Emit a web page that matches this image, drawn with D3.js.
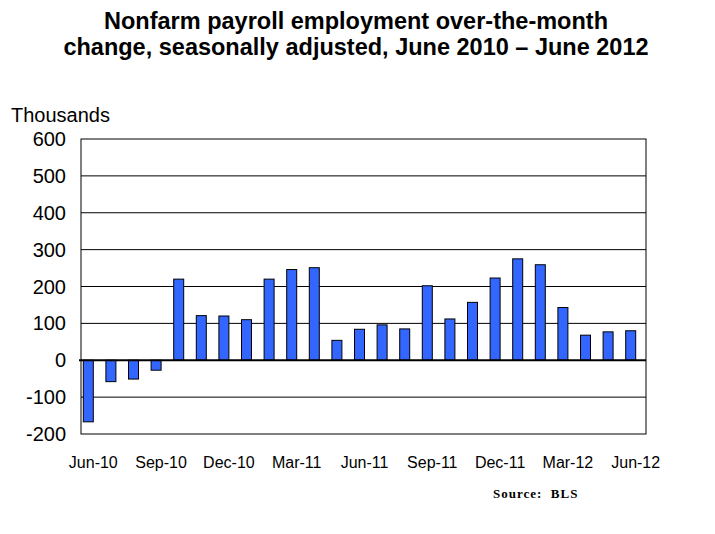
<!DOCTYPE html>
<html>
<head>
<meta charset="utf-8">
<script src="https://cdn.jsdelivr.net/npm/d3@7"></script>
<style>
  body { margin: 0; background: #fff; }
  svg { display: block; }
</style>
</head>
<body>
<script>
// months shown on the x axis, Jun 2010 - Jun 2012
var months = ["Jun-10", "Jul-10", "Aug-10", "Sep-10", "Oct-10", "Nov-10", "Dec-10",
              "Jan-11", "Feb-11", "Mar-11", "Apr-11", "May-11", "Jun-11", "Jul-11",
              "Aug-11", "Sep-11", "Oct-11", "Nov-11", "Dec-11", "Jan-12", "Feb-12",
              "Mar-12", "Apr-12", "May-12", "Jun-12"];

// over-the-month change, thousands
var changes = [-167, -58, -51, -27, 220, 121, 120, 110, 220, 246, 251, 54, 84, 96,
               85, 202, 112, 157, 223, 275, 259, 143, 68, 77, 80];

// only every third month gets a label
var labelled = ["Jun-10", "Sep-10", "Dec-10", "Mar-11", "Jun-11", "Sep-11",
                "Dec-11", "Mar-12", "Jun-12"];

var yTicks = [-200, -100, 0, 100, 200, 300, 400, 500, 600];

var titleLines = ["Nonfarm payroll employment over-the-month",
                  "change, seasonally adjusted, June 2010 \u2013 June 2012"];

// chart properties
var w = 715;
var h = 534;
var left = 81;
var right = 646;
var top_ = 139;
var bottom = 434;
var barWidth = 10;
var barShift = -9;

var svg = d3.select("body")
            .append("svg")
            .attr("width", w)
            .attr("height", h);

svg.append("rect")
   .attr("width", w)
   .attr("height", h)
   .attr("fill", "#fff");

var xScale = d3.scaleBand()
               .domain(months)
               .range([left, right]);

var yScale = d3.scaleLinear()
               .domain([-200, 600])
               .range([bottom, top_]);

// title
svg.selectAll(".title")
   .data(titleLines)
   .enter()
   .append("text")
   .attr("class", "title")
   .attr("x", 356)
   .attr("y", function(d, i) { return 29 + i * 26; })
   .attr("text-anchor", "middle")
   .style("font-family", "'Liberation Sans', Arial, sans-serif")
   .style("font-weight", "bold")
   .style("font-size", "23.5px")
   .text(function(d) { return d; });

// unit label
svg.append("text")
   .attr("x", 11)
   .attr("y", 122)
   .style("font-family", "'Liberation Sans', Arial, sans-serif")
   .style("font-size", "20px")
   .text("Thousands");

// gridlines
svg.selectAll(".grid")
   .data(yTicks.filter(function(t) { return t != 0 && t != -200 && t != 600; }))
   .enter()
   .append("line")
   .attr("class", "grid")
   .attr("x1", left)
   .attr("x2", right)
   .attr("y1", function(d) { return yScale(d); })
   .attr("y2", function(d) { return yScale(d); })
   .attr("stroke", "#000")
   .attr("stroke-width", 1);

// plot frame
svg.append("rect")
   .attr("x", left)
   .attr("y", yScale(600))
   .attr("width", right - left)
   .attr("height", yScale(-200) - yScale(600))
   .attr("fill", "none")
   .attr("stroke", "#000")
   .attr("stroke-width", 1);

// bars
svg.selectAll(".bar")
   .data(changes)
   .enter()
   .append("rect")
   .attr("class", "bar")
   .attr("x", function(d, i) {
     return xScale(months[i]) + xScale.bandwidth() / 2 + barShift;
   })
   .attr("y", function(d) { return yScale(Math.max(0, d)); })
   .attr("width", barWidth)
   .attr("height", function(d) { return Math.abs(yScale(d) - yScale(0)); })
   .attr("fill", "#3366ff")
   .attr("stroke", "#000")
   .attr("stroke-width", 1);

// zero line
svg.append("line")
   .attr("x1", left - 2)
   .attr("x2", right)
   .attr("y1", yScale(0))
   .attr("y2", yScale(0))
   .attr("stroke", "#000")
   .attr("stroke-width", 2);

// y tick labels
svg.selectAll(".ylab")
   .data(yTicks)
   .enter()
   .append("text")
   .attr("class", "ylab")
   .attr("x", 66)
   .attr("y", function(d) { return yScale(d) + 7; })
   .attr("text-anchor", "end")
   .style("font-family", "'Liberation Sans', Arial, sans-serif")
   .style("font-size", "20px")
   .text(function(d) { return d; });

// x tick labels
svg.selectAll(".xlab")
   .data(labelled)
   .enter()
   .append("text")
   .attr("class", "xlab")
   .attr("x", function(d) { return xScale(d) + xScale.bandwidth() / 2 + 1; })
   .attr("y", 468)
   .attr("text-anchor", "middle")
   .style("font-family", "'Liberation Sans', Arial, sans-serif")
   .style("font-size", "16px")
   .text(function(d) { return d; });

// source note
svg.append("text")
   .attr("x", 493)
   .attr("y", 498)
   .style("font-family", "'Liberation Serif', 'Times New Roman', serif")
   .style("font-weight", "bold")
   .style("font-size", "13px")
   .style("letter-spacing", "1px")
   .style("white-space", "pre")
   .text("Source:  BLS");
</script>
</body>
</html>
